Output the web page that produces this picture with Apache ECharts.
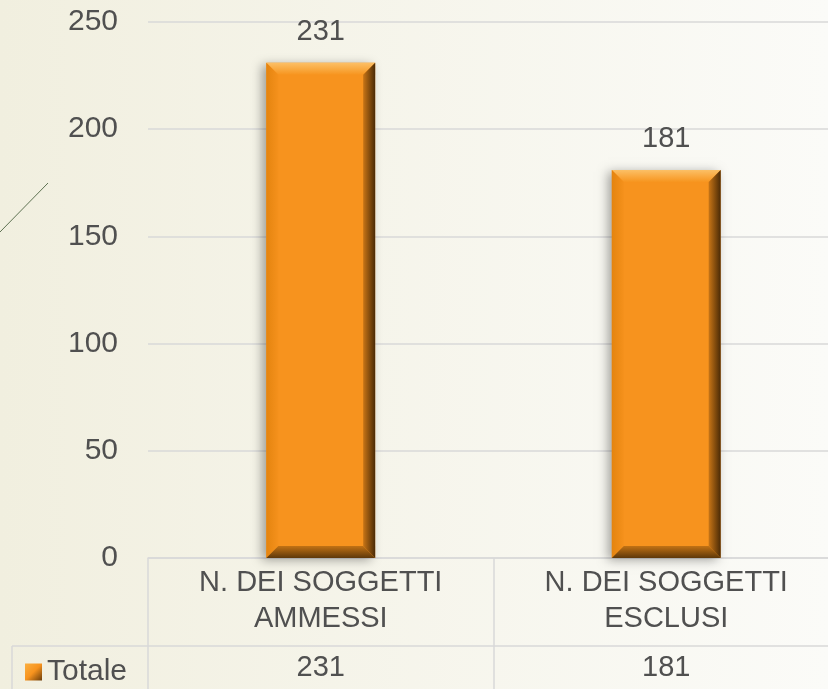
<!DOCTYPE html>
<html>
<head>
<meta charset="utf-8">
<script src="https://cdn.jsdelivr.net/npm/echarts@6/dist/echarts.min.js"></script>
<style>
html,body{margin:0;padding:0;}
#chart{width:828px;height:689px;}
</style>
</head>
<body>
<div id="chart"></div>
<script>
var categories = ['N. DEI SOGGETTI\nAMMESSI', 'N. DEI SOGGETTI\nESCLUSI'];
var values = [231, 181];
var seriesName = 'Totale';
var yTicks = {min: 0, max: 250, interval: 50};

var FONT = 'Liberation Sans, Arial, sans-serif';
var TXT = '#505050';
var LINE = '#D9D9D9';
var FS = 29;

var chart = echarts.init(document.getElementById('chart'));

function renderItem(params, api) {
  var top = api.coord([api.value(0), api.value(1)]);
  var base = api.coord([api.value(0), 0]);
  var catW = api.size([1, 0])[0];
  var w = catW * 0.315;
  var l = top[0] - w / 2, r = top[0] + w / 2, t = top[1], b = base[1];
  var bw = 12;
  var G = echarts.graphic.LinearGradient;
  return {
    type: 'group',
    children: [
      {type: 'rect', shape: {x: l, y: t, width: w, height: b - t},
       style: {fill: '#F7931E', shadowBlur: 10, shadowOffsetX: -4, shadowOffsetY: 2, shadowColor: 'rgba(0,0,0,0.35)'}},
      {type: 'polygon', shape: {points: [[l, t], [r, t], [r - bw, t + bw], [l + bw, t + bw]]},
       style: {fill: new G(0, 0, 0, 1, [{offset: 0, color: '#FCC066'}, {offset: 1, color: '#F7951F'}])}},
      {type: 'polygon', shape: {points: [[l, t], [l + bw, t + bw], [l + bw, b - bw], [l, b]]},
       style: {fill: new G(0, 0, 1, 0, [{offset: 0, color: '#E4840F'}, {offset: 1, color: '#F5911C'}])}},
      {type: 'polygon', shape: {points: [[r, t], [r, b], [r - bw, b - bw], [r - bw, t + bw]]},
       style: {fill: new G(0, 0, 1, 0, [{offset: 0, color: '#C87516'}, {offset: 1, color: '#4A2A06'}])}},
      {type: 'polygon', shape: {points: [[l, b], [r, b], [r - bw, b - bw], [l + bw, b - bw]]},
       style: {fill: new G(0, 0, 0, 1, [{offset: 0, color: '#C27214'}, {offset: 1, color: '#5E380A'}])}},
      {type: 'text', x: top[0], y: t - 16,
       style: {text: String(api.value(1)), fill: TXT, font: FS + 'px ' + FONT, align: 'center', verticalAlign: 'bottom'}}
    ]
  };
}

var option = {
  backgroundColor: new echarts.graphic.LinearGradient(0, 0, 1, 0, [
    {offset: 0, color: '#F1EFDF'}, {offset: 1, color: '#FBFBF8'}
  ]),
  animation: false,
  grid: {left: 148, width: 691, top: 22, bottom: 131, containLabel: false, outerBoundsMode: 'none'},
  legend: {
    data: [seriesName], left: 20, top: 652, icon: 'rect', itemWidth: 17, itemHeight: 17, itemGap: 7,
    textStyle: {fontSize: 30, color: TXT, fontFamily: FONT},
    itemStyle: {color: new echarts.graphic.LinearGradient(0, 0, 1, 1, [{offset: 0, color: '#FBB040'}, {offset: 0.5, color: '#F7931E'}, {offset: 1, color: '#6B3D0B'}])}
  },
  xAxis: [
    {
      type: 'category', data: categories, position: 'bottom',
      axisLine: {show: true, lineStyle: {color: LINE, width: 1.5}},
      axisTick: {show: true, interval: 0, length: 131, lineStyle: {color: LINE, width: 1.5}},
      axisLabel: {interval: 0, color: TXT, fontSize: FS, fontFamily: FONT, lineHeight: 36, margin: 7}
    },
    {
      type: 'category', data: values.map(String), position: 'bottom', offset: 88,
      axisLine: {show: false}, axisTick: {show: false},
      axisLabel: {interval: 0, color: TXT, fontSize: FS, fontFamily: FONT, lineHeight: 28, margin: 8}
    }
  ],
  yAxis: {
    type: 'value', min: yTicks.min, max: yTicks.max, interval: yTicks.interval,
    axisLine: {show: false}, axisTick: {show: false},
    axisLabel: {color: TXT, fontSize: 30, fontFamily: FONT, margin: 30},
    splitLine: {lineStyle: {color: LINE, width: 1.5}}
  },
  series: [{
    name: seriesName, type: 'custom', renderItem: renderItem, xAxisIndex: 0,
    itemStyle: {color: '#F7931E'},
    encode: {x: 0, y: 1},
    data: categories.map(function (c, i) { return [c, values[i]]; })
  }],
  graphic: [
    {type: 'line', shape: {x1: 12, y1: 646, x2: 828, y2: 646}, style: {stroke: LINE, lineWidth: 1.5}, z: 10},
    {type: 'line', shape: {x1: 12, y1: 646, x2: 12, y2: 689}, style: {stroke: LINE, lineWidth: 1.5}, z: 10},
    {type: 'line', shape: {x1: 0, y1: 232, x2: 48, y2: 183}, style: {stroke: '#5E7252', lineWidth: 1}, z: 10}
  ]
};
chart.setOption(option);
</script>
</body>
</html>
